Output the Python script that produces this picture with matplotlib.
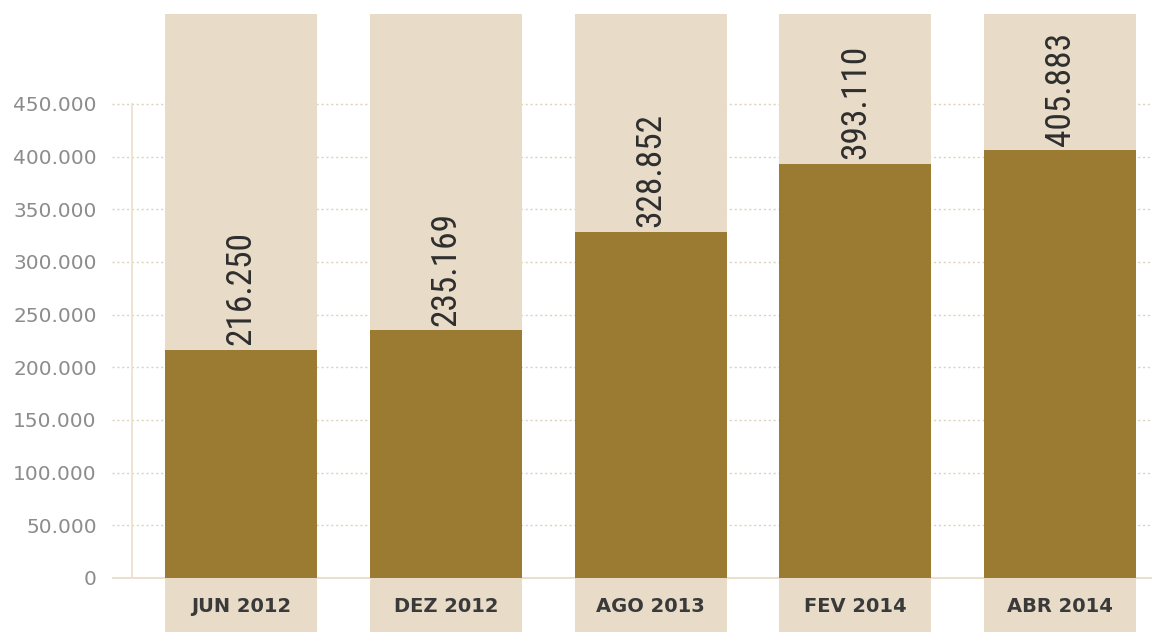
import matplotlib
matplotlib.use("Agg")
import matplotlib.pyplot as plt

categories = ["JUN 2012", "DEZ 2012", "AGO 2013", "FEV 2014", "ABR 2014"]
values = [216250, 235169, 328852, 393110, 405883]
value_labels = ["216.250", "235.169", "328.852", "393.110", "405.883"]
yticks = [0, 50000, 100000, 150000, 200000, 250000, 300000, 350000, 400000, 450000]
ytick_labels = ["0", "50.000", "100.000", "150.000", "200.000", "250.000",
                "300.000", "350.000", "400.000", "450.000"]

BG = "#E8DCC9"
DARK = "#9B7A31"
GRID = "#DDD2BA"

W, H = 1152, 632
fig = plt.figure(figsize=(W / 100, H / 100), dpi=100)
ax = fig.add_axes([112 / W, 0, 1 - 112 / W, 1])

unit = 204.75
x0 = 241
ax.set_xlim((112 - x0) / unit, (W - x0) / unit)
ymin, ymax = -51270, 548700
ax.set_ylim(ymin, ymax)

xs = list(range(len(categories)))
width = 152 / unit

# background bars
bg_top = 535400
ax.bar(xs, [bg_top - ymin] * len(xs), bottom=ymin, width=width, color=BG, zorder=1)

# grid lines (dotted)
for t in yticks[1:]:
    ax.axhline(t, color=GRID, lw=1.0, ls=(0, (1.5, 2)), zorder=0.5)
# baseline
ax.axhline(0, color="#E6DAC4", lw=1.2, zorder=0.6)
# vertical axis line
ax_x = (132 - x0) / unit
ax.plot([ax_x, ax_x], [0, 450000], color="#EDE2CF", lw=1.3, zorder=0.6)

# value bars
ax.bar(xs, values, width=width, color=DARK, zorder=2)

for x, v, lab in zip(xs, values, value_labels):
    ax.text(x, v + 4500, lab, rotation=90, ha="center", va="bottom",
            fontsize=25.5, color="#2e2e2e", fontweight="normal",
            family=["Roboto Condensed", "Roboto", "DejaVu Sans"], zorder=3)

for x, c in zip(xs, categories):
    ax.text(x, -27500, c, ha="center", va="center", fontsize=14,
            fontweight="semibold", color="#3a3a3a", zorder=3)

ax.set_yticks(yticks)
ax.set_yticklabels(ytick_labels)
ax.tick_params(axis="y", length=0, pad=11, labelsize=14.5, labelcolor="#8C8C8C")
ax.set_xticks([])
for s in ax.spines.values():
    s.set_visible(False)
ax.patch.set_alpha(0)

fig.savefig("out.png", dpi=100, facecolor="white")
